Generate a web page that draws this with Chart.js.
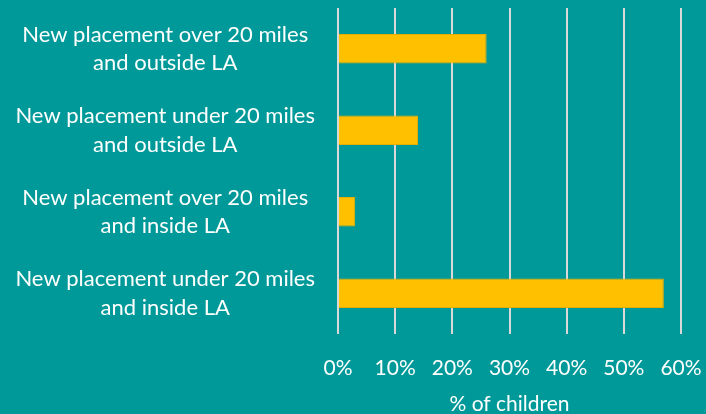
<!DOCTYPE html>
<html>
<head>
<meta charset="utf-8">
<script src="https://cdn.jsdelivr.net/npm/chart.js@4/dist/chart.umd.min.js"></script>
<style>
  html, body { margin: 0; padding: 0; background: #009999; }
  #wrap { width: 706px; height: 414px; }
</style>
</head>
<body>
<div id="wrap"><canvas id="chart" width="706" height="414"></canvas></div>
<script>
const categories = [
  ['New placement over 20 miles', 'and outside LA'],
  ['New placement under 20 miles', 'and outside LA'],
  ['New placement over 20 miles', 'and inside LA'],
  ['New placement under 20 miles', 'and inside LA']
];
const children = [0.26, 0.14, 0.03, 0.57];
const xTicks = [0, 0.1, 0.2, 0.3, 0.4, 0.5, 0.6];

const fontFamily = 'Lato, "Open Sans", sans-serif';

new Chart(document.getElementById('chart'), {
  type: 'bar',
  data: {
    labels: categories,
    datasets: [{
      label: '% of children',
      data: children,
      backgroundColor: '#FFC000',
      borderColor: '#E6AE00',
      borderWidth: 1,
      barPercentage: 0.36,
      categoryPercentage: 1
    }]
  },
  options: {
    indexAxis: 'y',
    responsive: false,
    animation: false,
    layout: { padding: { top: 8, right: 25, left: 0, bottom: 0 } },
    plugins: {
      legend: { display: false },
      tooltip: { enabled: false }
    },
    scales: {
      x: {
        min: 0,
        max: 0.6,
        afterBuildTicks: axis => { axis.ticks = xTicks.map(v => ({ value: v })); },
        grid: { color: '#D9D9D9', lineWidth: 2, drawTicks: false },
        border: { display: false },
        ticks: {
          color: '#FFFFFF',
          padding: 22,
          maxRotation: 0,
          font: { family: fontFamily, size: 21 },
          callback: v => Math.round(v * 100) + '%'
        },
        title: {
          display: true,
          text: '% of children',
          color: '#FFFFFF',
          padding: { top: 6, bottom: -3 },
          font: { family: fontFamily, size: 21 }
        },
        afterFit: axis => {
          axis.height = 80;
          axis.paddingLeft = 0;
          axis.paddingRight = 0;
        }
      },
      y: {
        grid: { display: false, drawTicks: false },
        border: { display: false },
        ticks: {
          color: '#FFFFFF',
          crossAlign: 'center',
          padding: 23,
          font: { family: fontFamily, size: 22, lineHeight: 1.3 }
        },
        afterFit: axis => {
          axis.width = 338;
          axis.paddingTop = 0;
          axis.paddingBottom = 0;
        }
      }
    }
  }
});
</script>
</body>
</html>
